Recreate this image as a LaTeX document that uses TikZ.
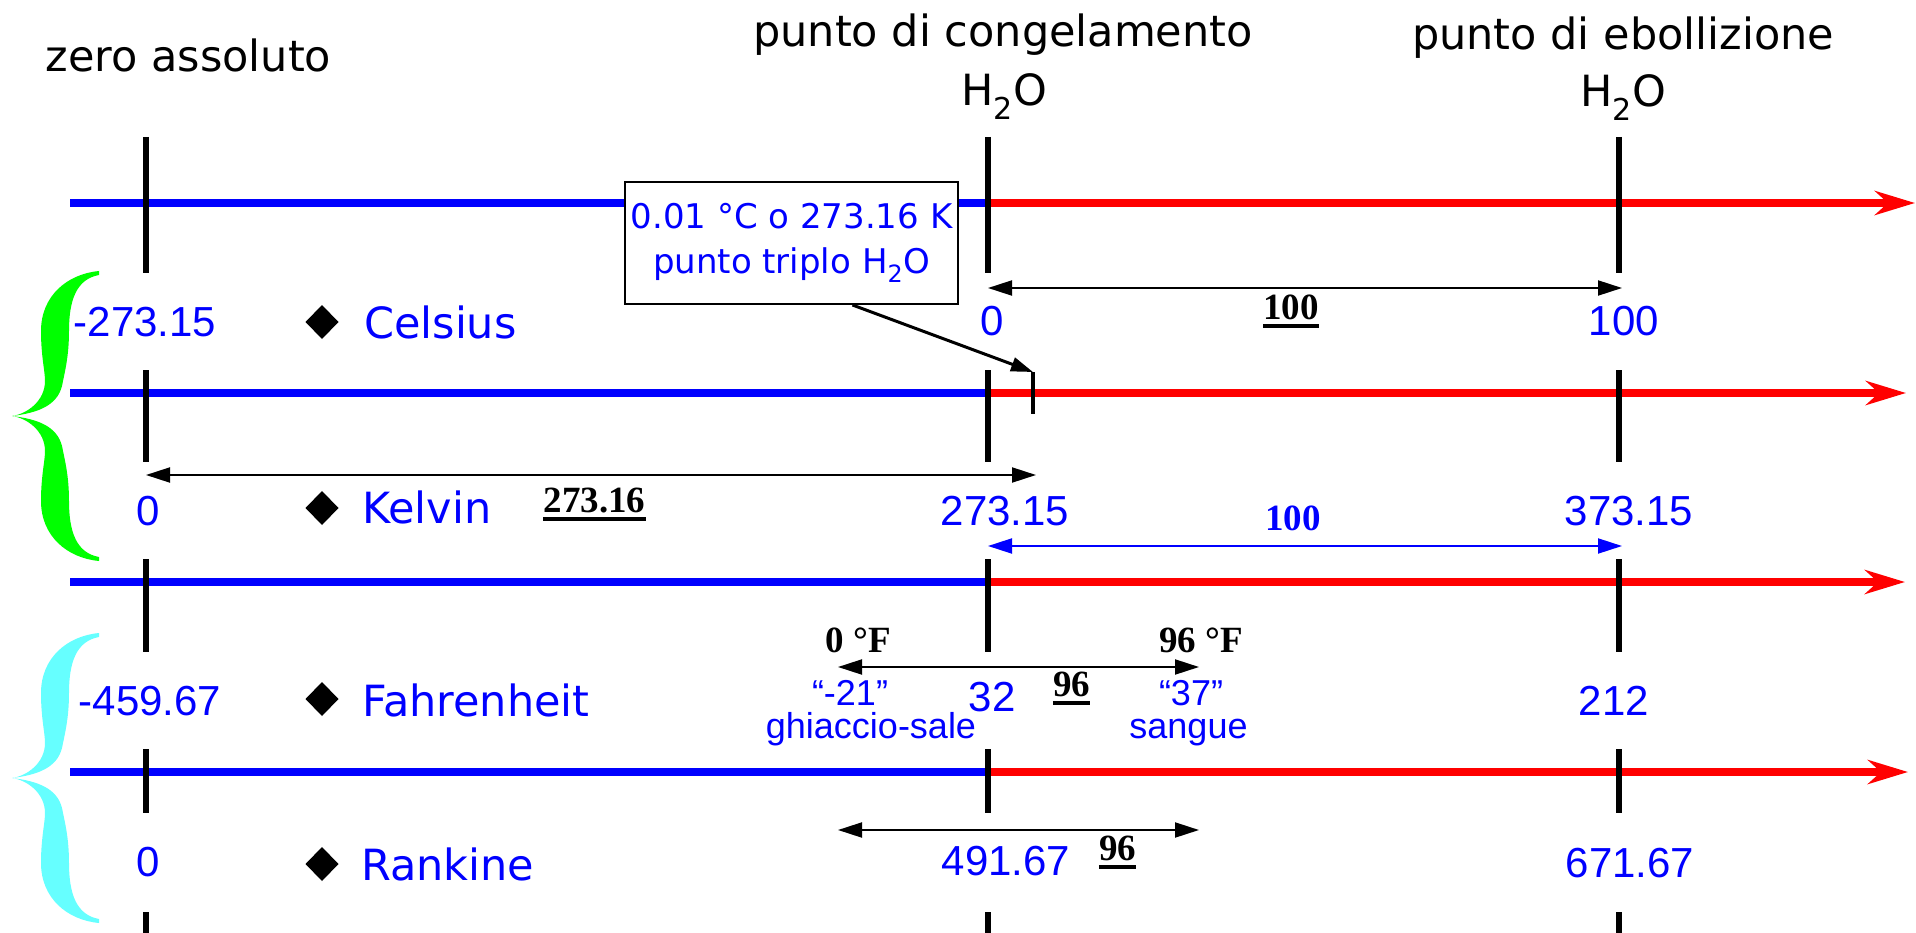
\documentclass[tikz,border=0pt]{standalone}
\usepackage{fontspec}
\usetikzlibrary{arrows.meta,calc}
\newfontfamily\comicfont{DejaVu Sans}
\newfontfamily\arialfont{Liberation Sans}
\newfontfamily\timesfont{Liberation Serif}
\definecolor{pblue}{RGB}{0,0,255}
\definecolor{pred}{RGB}{255,0,0}
\definecolor{pgreen}{RGB}{0,255,0}
\definecolor{pcyan}{RGB}{102,255,255}
\begin{document}
\begin{tikzpicture}[x=1pt,y=-1pt,
  cold/.style={pblue,line width=8pt},
  hot/.style={pred,line width=8pt,-{Stealth[length=40pt,width=24pt,inset=13pt]}},
  tickmark/.style={black,line width=6pt},
  dimarrow/.style={line width=2pt,{Triangle[length=24pt,width=15pt]}-{Triangle[length=24pt,width=15pt]}},
  head/.style={font=\comicfont\fontsize{43}{50}\selectfont,inner sep=0pt,anchor=base},
  scalename/.style={font=\comicfont\fontsize{43}{50}\selectfont,text=pblue,inner sep=0pt,anchor=base west},
  num/.style={font=\arialfont\fontsize{42}{48}\selectfont,text=pblue,inner sep=0pt,anchor=base},
  smallnum/.style={font=\arialfont\fontsize{36}{40}\selectfont,text=pblue,inner sep=0pt,anchor=base},
  bnum/.style={font=\timesfont\bfseries\fontsize{37}{42}\selectfont,inner sep=0pt,anchor=base},
  ulstyle/.style={line width=4pt},
  mybrace/.pic={\fill[#1] (87,0) .. controls (55,3) and (29,25) .. (29,60)
      .. controls (29,85) and (33,100) .. (33,110)
      .. controls (33,130) and (15,143) .. (0,145)
      .. controls (15,147) and (33,160) .. (33,180)
      .. controls (33,190) and (29,205) .. (29,230)
      .. controls (29,265) and (55,287) .. (87,290) -- (87,286)
      .. controls (65,282) and (57,262) .. (57,230)
      .. controls (57,205) and (53,190) .. (50,175)
      .. controls (45,155) and (25,148) .. (0,145)
      .. controls (25,142) and (45,135) .. (50,115)
      .. controls (53,100) and (57,85) .. (57,60)
      .. controls (57,28) and (65,8) .. (87,4) -- cycle;}
]
\useasboundingbox (0,0) rectangle (1916,933);

% headings
\node[head] (hz) at (188.5,72) {zero assoluto};
\node[head] (hc) at (1003,47) {punto di congelamento};
\node[head] (hcw) at (1004,106) {H\textsubscript{2}O};
\node[head] (he) at (1623,50) {punto di ebollizione};
\node[head] (hew) at (1623,107) {H\textsubscript{2}O};

% scale lines
\foreach \y/\t in {203/1915,393/1906,582/1905,772/1908}{
  \draw[cold] (70,\y) -- (988,\y);
  \draw[hot] (988,\y) -- (\t,\y);
}

% vertical ticks
\foreach \x in {146,988,1619}{
  \foreach \a/\b in {137/273,370/462,559/652,749/813,912/933}
    \draw[tickmark] (\x,\a) -- (\x,\b);
}

% braces
\pic at (12,271) {mybrace=pgreen};
\pic at (12,633) {mybrace=pcyan};

% diamonds and scale names
\foreach \y in {322,508,699,864}
  \fill (322,\y-17) -- (338.5,\y) -- (322,\y+17) -- (305.5,\y) -- cycle;
\node[scalename] (sc) at (364,338) {Celsius};
\node[scalename] (sk) at (362,523) {Kelvin};
\node[scalename] (sf) at (362,716) {Fahrenheit};
\node[scalename] (sr) at (361,880) {Rankine};

% numbers
\node[num] (c0) at (145,336) {-273.15};
\node[num] (c1) at (992,335) {0};
\node[num] (c2) at (1624,335) {100};
\node[num] (k0) at (148,525) {0};
\node[num] (k1) at (1005,525) {273.15};
\node[num] (k2) at (1629,525) {373.15};
\node[num] (f0) at (150,715) {-459.67};
\node[num] (f1) at (992,711) {32};
\node[num] (f2) at (1614,715) {212};
\node[num] (r0) at (148,876) {0};
\node[num] (r1) at (1006,875) {491.67};
\node[num] (r2) at (1630,877) {671.67};

\node[smallnum] (q1) at (850,705) {“-21”};
\node[smallnum] (q2) at (871,738) {ghiaccio-sale};
\node[smallnum] (q3) at (1191,705) {“37”};
\node[smallnum] (q4) at (1188.5,738) {sangue};

% dimension arrows
\coordinate (a1l) at (988,288);  \coordinate (a1r) at (1622,288);
\coordinate (a2l) at (146,475);  \coordinate (a2r) at (1036,475);
\coordinate (a3l) at (988,546);  \coordinate (a3r) at (1622,546);
\coordinate (a4l) at (838,667);  \coordinate (a4r) at (1199,667);
\coordinate (a5l) at (838,830);  \coordinate (a5r) at (1199,830);
\draw[dimarrow] (a1l) -- (a1r);
\draw[dimarrow] (a2l) -- (a2r);
\draw[dimarrow,pblue] (a3l) -- (a3r);
\draw[dimarrow] (a4l) -- (a4r);
\draw[dimarrow] (a5l) -- (a5r);

% bold labels
\node[bnum] (u1) at (1291,319) {100};
\node[bnum] (u2) at (594.5,512) {273.16};
\node[bnum] (u3) at (1071.5,696) {96};
\node[bnum] (u4) at (1117.5,860) {96};
\foreach \n in {u1,u2,u3,u4}
  \draw[ulstyle] ([yshift=-6.5pt]\n.base west) -- ([yshift=-6.5pt]\n.base east);
\node[bnum,text=pblue] (b100) at (1293,530) {100};
\node[bnum] (f0F) at (858.5,652) {0 °F};
\node[bnum] (f96F) at (1201,652) {96 °F};

% triple point callout
\node[draw,line width=2pt,fill=white,minimum width=333pt,minimum height=122pt,
      inner sep=0pt,align=center,text=pblue,
      font=\comicfont\fontsize{34}{45}\selectfont] (box) at (791.5,243)
      {0.01 °C o 273.16 K\\punto triplo H\textsubscript{2}O};
\coordinate (tp) at (1033,372);
\coordinate (tpb) at (1033,414);
\draw[line width=3pt,-{Triangle[length=22pt,width=14pt]}] ([xshift=61pt]box.south) -- (tp);
\draw[line width=4pt] (tp) -- (tpb);
\end{tikzpicture}
\end{document}
